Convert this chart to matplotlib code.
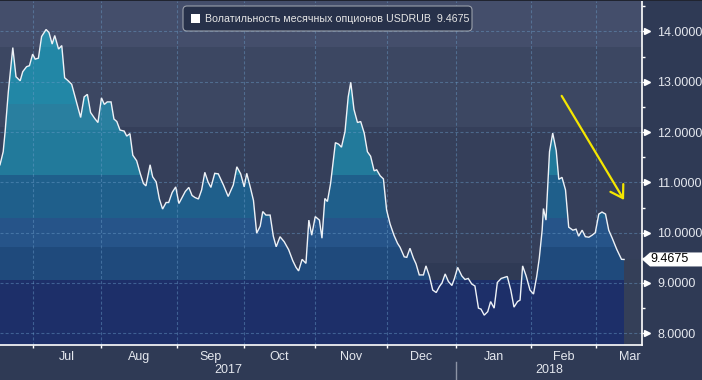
import numpy as np
import matplotlib
matplotlib.use("Agg")
import matplotlib.pyplot as plt
from matplotlib.patches import Polygon, Rectangle, FancyBboxPatch
import matplotlib.transforms as mtransforms

plt.rcParams['font.family'] = ['Liberation Sans', 'DejaVu Sans']

# ---------------- data ----------------
day = [0.0, 1.0, 1.6, 2.6, 4.0, 5.0, 6.3, 7.1, 8.3, 9.2, 10.2, 11.0, 12.0, 13.0, 14.4,
       15.3, 16.3, 17.1, 18.3, 19.3, 20.2, 21.3, 22.4, 24.0, 25.2, 26.3, 27.3, 28.3,
       29.6, 30.6, 31.7, 32.6, 33.5, 34.7, 35.6, 36.5, 37.5, 38.8, 39.6, 40.6, 41.5,
       42.7, 43.8, 44.8, 45.6, 46.9, 47.7, 48.8, 49.8, 50.8, 51.9, 52.7, 53.8, 54.9,
       55.9, 57.0, 57.9, 59.0, 60.0, 60.9, 62.0, 63.0, 64.0, 65.0, 65.9, 67.1,
       68.2, 69.8, 71.3, 72.9, 74.0, 75.2, 76.3, 77.1, 78.3, 79.2, 80.2, 81.3, 82.1,
       83.1, 84.4, 85.4, 86.3, 87.5, 88.8, 90.2, 91.5, 92.5, 93.3, 94.4, 95.6, 96.5,
       97.4, 98.5, 99.8, 100.6, 101.5, 102.3, 103.3, 104.8, 105.8, 106.7, 107.8,
       108.8, 109.6, 110.6, 111.7, 112.7, 113.8, 114.8, 115.8, 116.9, 117.7, 118.8,
       119.8, 120.8, 121.9, 123.1, 124.2, 125.0, 126.3, 127.1, 128.1, 129.2, 130.0,
       131.0, 132.3,
       133.1, 134.2, 135.2, 136.3, 137.3, 138.1, 139.1, 140.1, 141.2, 142.0, 143.0,
       144.3, 145.3, 146.3, 147.4, 148.4, 149.5, 150.3, 151.3, 152.4, 153.3, 154.4,
       155.4, 156.6, 157.6, 158.5, 159.6, 160.6, 161.7, 162.5, 163.3, 164.4, 165.6,
       166.7, 167.7, 168.5, 169.4, 169.8, 170.6, 171.7, 172.7, 173.8, 174.6, 175.6,
       176.7, 177.7, 179.0, 180.0, 180.8, 181.9, 182.9, 184.0, 185.0, 186.0, 187.1,
       188.1, 189.2, 190.2, 191.3, 192.7, 194.2, 195.0]
vol = [11.35, 11.61, 12.01, 12.80, 13.68, 13.10, 13.02, 13.20, 13.30, 13.32, 13.55,
       13.45, 13.47, 13.90, 14.04, 13.98, 13.75, 13.92, 13.65, 13.72, 13.08, 13.02,
       12.95, 12.57, 12.29, 12.70, 12.75, 12.39, 12.27, 12.19, 12.68, 12.55, 12.60,
       12.60, 12.26, 12.21, 12.04, 12.02, 11.92, 11.97, 11.54, 11.43, 11.18, 10.98,
       10.93, 11.35, 11.11, 11.01, 10.67, 10.47, 10.60, 10.60, 10.80, 10.91, 10.58,
       10.71, 10.82, 10.90, 10.74, 10.70, 10.67, 10.85, 11.20, 11.01, 10.90, 11.18,
       11.17, 10.95, 10.72, 10.95, 11.31, 11.17, 10.91, 11.18, 10.88, 10.64, 9.99,
       10.13, 10.42, 10.35, 10.35, 9.93, 9.72, 9.92, 9.82, 9.66, 9.44, 9.31, 9.24,
       9.47, 9.39, 10.25, 9.95, 10.32, 10.25, 9.89, 10.68, 10.62, 10.98, 11.79, 11.76,
       11.70, 12.01, 12.70, 12.99, 12.45, 12.19, 12.21, 11.98, 11.61, 11.52, 11.23,
       11.25, 11.13, 11.07, 10.45, 10.17, 9.95, 9.79, 9.71, 9.52, 9.51, 9.69, 9.49,
       9.38, 9.16, 9.16,
       9.34, 9.13, 8.86, 8.81, 8.93, 9.00, 9.18, 9.03, 8.95, 9.09, 9.31, 9.14, 9.07,
       9.09, 8.98, 8.94, 8.50, 8.48, 8.36, 8.43, 8.63, 8.50, 9.01, 9.09, 9.11, 9.13,
       8.86, 8.52, 8.63, 8.66, 9.34, 9.14, 8.86, 8.78, 9.13, 9.49, 10.05, 10.48, 10.25,
       11.61, 11.98, 11.63, 11.06, 11.10, 10.85, 10.11, 10.05, 10.07, 9.93, 10.05,
       9.92, 9.91, 9.95, 10.00, 10.37, 10.41, 10.37, 10.05, 9.89, 9.67, 9.47, 9.4675]

month_bounds = [10.3, 31.6, 55.3, 76.3, 98.4, 120.9, 142.5, 165.9, 186.3, 207.5]
month_labels = ["Jul", "Aug", "Sep", "Oct", "Nov", "Dec", "Jan", "Feb", "Mar"]
year_labels = ["2017", "2018"]
y_ticks = [8, 9, 10, 11, 12, 13, 14]
y_minor = [8.5, 9.5, 10.5, 11.5, 12.5, 13.5, 14.5]
last_value = 9.4675
series_name = "Волатильность месячных опционов USDRUB"
arrow_from = (175.5, 12.72)
arrow_to = (195.0, 10.65)

# ---------------- style ----------------
XMAX = 200.6
YMIN, YMAX = 7.767, 14.606
bg_bands = [(13.69, 20, "#444e6b"), (12.10, 13.69, "#3c4762"),
            (9.40, 12.10, "#353f5a"), (9.06, 9.40, "#2f3a55"), (0, 9.06, "#343f58")]
fill_bands = [(13.69, 20, "#2a8eac"), (12.55, 13.69, "#2287a6"),
              (12.05, 12.55, "#297f9f"), (11.15, 12.05, "#227a9b"),
              (10.29, 11.15, "#1f5f8b"), (9.72, 10.29, "#265489"),
              (9.06, 9.72, "#1f4a7c")]
navy = "#1d2f69"
navy_top = 9.06

W, H = 702, 380
fig = plt.figure(figsize=(W / 100, H / 100), dpi=100, facecolor="#2f3a55")
ax = fig.add_axes([0, 35 / H, 642 / W, 344 / H])
ax.set_xlim(0, XMAX)
ax.set_ylim(YMIN, YMAX)
ax.set_facecolor("#353f5a")

for lo, hi, c in bg_bands:
    ax.axhspan(lo, hi, color=c, lw=0, zorder=0)

day_a = np.array(day)
vol_a = np.array(vol)
verts = [(day_a[0], YMIN)] + list(zip(day_a, vol_a)) + [(day_a[-1], YMIN)]
area = Polygon(verts, closed=True, fc='none', ec='none')
ax.add_patch(area)
for lo, hi, c in fill_bands:
    r = ax.axhspan(lo, hi, color=c, lw=0, zorder=1)
    r.set_clip_path(area)

ax.add_patch(Rectangle((day_a[0], YMIN), day_a[-1] - day_a[0], navy_top - YMIN,
                       color=navy, lw=0, zorder=1.2))
ax.add_patch(Rectangle((day_a[-1], YMIN), XMAX - day_a[-1], last_value - YMIN,
                       color="#343f58", lw=0, zorder=1.2))

grid_kw = dict(color="#6a9cc8", alpha=0.45, lw=0.8, ls=(0, (2.7, 1.9)), zorder=2)
for xb in month_bounds[:-1]:
    ax.axvline(xb, **grid_kw)
for yv in y_ticks:
    ax.axhline(yv, **grid_kw)

ax.plot(day_a, vol_a, color="#eef2f7", lw=1.0, zorder=3, solid_joinstyle='miter')

# spines
for s in ["left", "top"]:
    ax.spines[s].set_visible(False)
for s in ["bottom", "right"]:
    ax.spines[s].set_color("white")
    ax.spines[s].set_linewidth(1.2)

# y axis
ax.yaxis.tick_right()
ax.set_yticks(y_ticks)
ax.set_yticklabels([f"{v:.4f}" for v in y_ticks])
ax.set_yticks(y_minor, minor=True)
ax.tick_params(axis='y', which='major', length=4, width=1, color='white',
               pad=7, labelsize=9, labelcolor='#e4e7ee')
ax.tick_params(axis='y', which='minor', length=2.5, width=1, color='white')
tri_tr = mtransforms.blended_transform_factory(ax.transAxes, ax.transData)
ax.plot(np.full(len(y_ticks), 1 + 5 / 642), y_ticks, ls='none', marker='>',
        ms=4, color='white', mec='white', transform=tri_tr, clip_on=False, zorder=5)

# x axis
ax.set_xticks(month_bounds[:-1])
ax.set_xticklabels([""] * (len(month_bounds) - 1))
mids = [(a + b) / 2 for a, b in zip(month_bounds[:-1], month_bounds[1:])]
ax.set_xticks(mids, minor=True)
ax.set_xticklabels(month_labels, minor=True)
ax.tick_params(axis='x', which='major', length=2.5, width=1, color='white')
ax.tick_params(axis='x', which='minor', length=0, pad=4, labelsize=9,
               labelcolor='#e4e7ee')

yr_tr = mtransforms.blended_transform_factory(ax.transData, ax.transAxes)
jan = month_bounds[6]
ax.text(jan / 2, -0.074, year_labels[0], transform=yr_tr, ha='center',
        va='center', fontsize=9, color='#e4e7ee')
ax.text((jan + XMAX) / 2, -0.074, year_labels[1], transform=yr_tr, ha='center',
        va='center', fontsize=9, color='#e4e7ee')
ax.plot([jan, jan], [-0.049, -0.11], transform=yr_tr, clip_on=False,
        color="#8c93a5", lw=1)

# yellow arrow
ax.annotate('', xy=arrow_to, xytext=arrow_from,
            arrowprops=dict(arrowstyle='->,head_length=0.43,head_width=0.27',
                            color='#f5e600', lw=1.6, mutation_scale=20,
                            shrinkA=0, shrinkB=0), zorder=6)

# last value tag
tag_tr = mtransforms.blended_transform_factory(fig.transFigure, ax.transData)
hh = 7 / 50.3
tag = Polygon([(642 / W, last_value), (650 / W, last_value + hh), (1.0, last_value + hh),
               (1.0, last_value - hh), (650 / W, last_value - hh)], closed=True,
              fc='white', ec='none', transform=tag_tr, clip_on=False, zorder=7)
fig.add_artist(tag)
fig.text(650.5 / W, 0, f"{last_value:.4f}", transform=tag_tr, fontsize=9,
         color='black', ha='left', va='center', zorder=8).set_y(last_value)

# legend box
inch = fig.dpi_scale_trans
box = FancyBboxPatch((183 / 100, (H - 31) / 100), 289 / 100, 25 / 100,
                     boxstyle='round,pad=0,rounding_size=0.04', fc="#27314a",
                     ec="#9aa0ab", lw=0.8, transform=inch, zorder=9)
fig.add_artist(box)
fig.add_artist(Rectangle((191 / 100, (H - 23.3) / 100), 9 / 100, 9 / 100,
                         fc='white', ec='none', transform=inch, zorder=10))
leg_txt = fig.text(205 / W, (H - 19.5) / H, f"{series_name}  {last_value:.4f}",
                   fontsize=8.4, color='#e6e6e6', ha='left', va='center', zorder=10)
# fit legend text width to the box (target ~261 px)
renderer = fig.canvas.get_renderer()
wpx = leg_txt.get_window_extent(renderer).width
leg_txt.set_fontsize(min(8.4 * 261 / wpx, 9.5))

# top dark strip
fig.add_artist(Rectangle((0, (H - 1.2) / H), 1, 1.2 / H, fc="#202430", ec='none',
                         transform=fig.transFigure, zorder=10))

fig.savefig("out.png", dpi=100, facecolor=fig.get_facecolor())
